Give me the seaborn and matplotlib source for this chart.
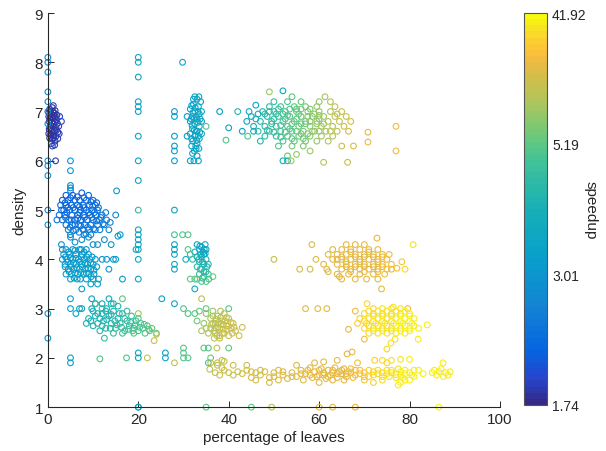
import numpy as np
import pandas as pd
import matplotlib
matplotlib.use("Agg")
import matplotlib.pyplot as plt
from matplotlib.colors import LinearSegmentedColormap, Normalize
from matplotlib.cm import ScalarMappable
import seaborn as sns

''' DATA: (percentage of leaves, density, speedup) read off the figure, by blob '''
left_strip = [
    (0.4, 7.05, 1.85), (1.0, 7.08, 1.8), (1.6, 7.02, 1.85), (0.2, 6.98, 1.8), (0.8, 6.95, 1.8),
    (1.4, 6.97, 1.8), (2.0, 6.93, 1.85), (0.5, 6.88, 1.8), (1.1, 6.86, 1.8), (1.7, 6.89, 1.8),
    (0.3, 6.80, 1.8), (0.9, 6.78, 1.8), (1.5, 6.80, 1.8), (2.1, 6.76, 1.85), (0.6, 6.72, 1.8),
    (1.2, 6.70, 1.8), (1.8, 6.68, 1.8), (0.3, 6.64, 1.8), (0.9, 6.60, 1.8), (1.5, 6.62, 1.8),
    (2.2, 6.58, 1.85), (0.6, 6.54, 1.8), (1.2, 6.52, 1.8), (1.8, 6.50, 1.85), (0.4, 6.46, 1.8),
    (1.0, 6.44, 1.8), (1.6, 6.40, 1.85), (0.8, 6.35, 1.9), (3.0, 6.80, 1.95), (2.2, 6.45, 1.9),
    (1.0, 6.30, 1.9), (1.5, 6.32, 1.9), (2.5, 6.55, 1.9), (1.7, 6.00, 1.85), (1.2, 7.12, 1.9),
    (0.6, 7.00, 1.8), (1.3, 6.92, 1.8), (0.5, 6.83, 1.8), (1.2, 6.75, 1.8), (1.9, 6.84, 1.85),
    (0.5, 6.67, 1.8), (1.2, 6.58, 1.8), (1.9, 6.62, 1.85), (0.7, 6.50, 1.8), (1.3, 6.47, 1.85),
    (0.2, 6.55, 1.8), (2.4, 6.70, 1.9), (2.6, 6.90, 1.9), (0.2, 6.90, 1.8), (1.1, 7.00, 1.8),
]
zero_column = [
    (0, 8.1, 2.8), (0, 8.0, 2.8), (0, 7.8, 2.8), (0, 7.4, 2.8), (0, 7.2, 2.8), (0, 7.0, 2.7),
    (0, 6.75, 2.7), (0, 6.0, 2.8), (0, 5.9, 2.8), (0, 5.7, 3.1), (0, 5.0, 2.5), (0, 4.7, 2.9),
    (0, 2.9, 3.0), (0, 2.4, 3.1), (5, 6.0, 3.0), (5, 5.8, 3.0), (5, 5.5, 3.0), (5, 5.4, 3.0),
]
blue_blob = [
    (4.0, 5.3, 2.1), (5.5, 5.3, 2.1), (7.5, 5.35, 2.1), (9.0, 5.3, 2.2),
    (3.2, 5.2, 2.1), (4.5, 5.2, 2.2), (6.0, 5.2, 2.2), (7.0, 5.2, 2.2), (8.5, 5.2, 2.3), (10.0, 5.2, 2.3),
    (2.8, 5.1, 2.3), (4.0, 5.1, 2.2), (5.2, 5.1, 2.3), (6.5, 5.1, 2.2), (7.8, 5.1, 2.3), (9.2, 5.1, 2.3), (10.5, 5.1, 2.4),
    (3.5, 5.0, 2.3), (4.8, 5.0, 2.2), (6.0, 5.0, 2.3), (7.2, 5.0, 2.3), (8.5, 5.0, 2.2), (9.8, 5.0, 2.4), (11.0, 5.0, 2.4),
    (2.5, 4.9, 2.4), (3.8, 4.9, 2.3), (5.3, 4.9, 2.3), (6.6, 4.9, 2.3), (7.9, 4.9, 2.2), (9.3, 4.9, 2.3), (10.6, 4.9, 2.4), (12.0, 4.9, 2.5),
    (3.2, 4.8, 2.4), (4.6, 4.8, 2.3), (6.0, 4.8, 2.3), (7.3, 4.8, 2.3), (8.7, 4.8, 2.3), (10.0, 4.8, 2.4), (11.4, 4.8, 2.4), (13.0, 4.8, 2.5),
    (4.0, 4.7, 2.4), (5.4, 4.7, 2.4), (6.8, 4.7, 2.3), (8.2, 4.7, 2.3), (9.5, 4.7, 2.4), (11.0, 4.7, 2.5), (12.5, 4.7, 2.5),
    (4.5, 4.6, 2.5), (6.2, 4.6, 2.5), (7.8, 4.6, 2.4), (9.0, 4.6, 2.4), (10.5, 4.6, 2.5),
    (5.0, 4.5, 2.6), (8.0, 4.5, 2.6), (9.5, 4.5, 2.6),
    (15.0, 4.9, 2.7), (15.5, 4.47, 3.0), (13.5, 4.6, 2.7), (12.5, 4.4, 2.8), (2.0, 4.8, 2.4),
    (5.0, 5.45, 2.8), (15.2, 5.39, 3.1),
    (3.8, 5.15, 2.2), (5.0, 5.25, 2.1), (6.5, 5.27, 2.1), (8.0, 5.25, 2.2), (9.5, 5.17, 2.3), (11.2, 5.05, 2.4),
    (3.0, 5.0, 2.3), (4.2, 4.95, 2.3), (5.6, 5.05, 2.2), (7.0, 5.07, 2.2), (8.0, 5.05, 2.3), (9.0, 4.95, 2.3),
    (10.3, 4.95, 2.3), (11.7, 4.85, 2.4), (3.9, 4.85, 2.3), (5.2, 4.8, 2.3), (6.6, 4.83, 2.3), (8.1, 4.85, 2.3),
    (9.7, 4.85, 2.4), (10.8, 4.78, 2.4), (12.2, 4.72, 2.5), (4.9, 4.65, 2.4), (6.0, 4.7, 2.4), (7.3, 4.68, 2.4),
    (8.8, 4.65, 2.4), (10.1, 4.62, 2.5), (11.5, 4.6, 2.5), (6.9, 4.55, 2.5), (8.4, 4.52, 2.5), (5.6, 4.58, 2.5),
    (7.0, 4.95, 2.2), (4.4, 5.05, 2.2), (9.9, 5.08, 2.3), (10.8, 5.15, 2.3), (12.8, 4.95, 2.5), (13.8, 4.75, 2.6),
]
gap_points = [
    (3.0, 4.3, 2.9), (3.2, 4.2, 2.9), (5.0, 4.45, 2.9), (6.0, 4.35, 2.9), (7.5, 4.4, 2.9), (9.0, 4.45, 2.9),
    (10.0, 4.3, 2.9), (11.0, 4.3, 2.9), (12.0, 4.0, 3.0), (13.0, 4.0, 3.0), (14.5, 4.0, 3.1), (15.0, 4.0, 3.1),
    (13.5, 3.8, 3.1), (14.0, 4.3, 3.0), (16.0, 4.5, 3.1), (16.5, 3.6, 3.2),
]
cyan_blob = [
    (4.0, 4.2, 3.0), (5.5, 4.2, 3.0), (7.0, 4.2, 3.1), (8.5, 4.2, 3.0),
    (3.5, 4.1, 3.0), (4.8, 4.1, 3.1), (6.2, 4.1, 3.1), (7.6, 4.1, 3.1), (9.0, 4.1, 3.0),
    (3.2, 4.0, 3.0), (4.2, 4.0, 3.1), (5.5, 4.0, 3.2), (6.8, 4.0, 3.1), (8.0, 4.0, 3.2), (9.3, 4.0, 3.1), (10.5, 4.0, 3.1),
    (3.8, 3.9, 3.1), (5.0, 3.9, 3.2), (6.3, 3.9, 3.2), (7.5, 3.9, 3.2), (8.8, 3.9, 3.1), (10.0, 3.9, 3.2),
    (4.5, 3.8, 3.1), (5.8, 3.8, 3.2), (7.0, 3.8, 3.3), (8.3, 3.8, 3.2), (9.5, 3.8, 3.2),
    (4.0, 3.7, 3.2), (5.2, 3.7, 3.2), (6.6, 3.7, 3.2), (8.0, 3.7, 3.3), (9.0, 3.7, 3.2), (10.2, 3.7, 3.2),
    (5.0, 3.6, 3.3), (6.5, 3.6, 3.3), (8.5, 3.6, 3.3), (10.0, 3.6, 3.3), (11.2, 3.6, 3.3),
    (9.5, 3.5, 3.3), (11.0, 3.5, 3.3), (7.5, 3.4, 3.3),
    (4.6, 4.15, 3.0), (6.0, 4.18, 3.1), (7.4, 4.2, 3.1), (8.0, 4.15, 3.1), (3.9, 4.05, 3.0), (5.0, 4.03, 3.1),
    (6.2, 4.02, 3.2), (7.4, 4.05, 3.2), (8.6, 4.05, 3.1), (9.8, 4.05, 3.1), (4.4, 3.95, 3.1), (5.7, 3.93, 3.2),
    (7.0, 3.95, 3.2), (8.2, 3.92, 3.2), (9.5, 3.93, 3.2), (10.8, 3.85, 3.2), (5.2, 3.85, 3.2), (6.4, 3.83, 3.2),
    (7.6, 3.85, 3.3), (8.9, 3.82, 3.2), (10.2, 3.78, 3.2), (4.7, 3.75, 3.2), (6.0, 3.72, 3.2), (7.3, 3.73, 3.3),
    (8.5, 3.72, 3.3), (9.6, 3.65, 3.3), (5.8, 3.62, 3.3), (7.2, 3.6, 3.3), (3.8, 3.85, 3.1),
]
low_scatter = [
    (5.0, 3.2, 3.3), (5.0, 3.0, 3.3), (6.2, 2.9, 3.4), (7.0, 3.0, 3.4), (7.5, 3.0, 3.4), (9.7, 3.2, 3.4),
    (9.7, 3.0, 3.4), (10.5, 3.1, 3.5), (12.0, 3.1, 3.6), (25.2, 3.2, 3.4), (14.0, 3.1, 4.4),
    (5.0, 2.0, 3.3), (5.0, 1.9, 3.3), (11.5, 1.98, 5.0), (17.4, 2.0, 5.0), (26.0, 2.1, 3.4), (26.0, 2.0, 3.4),
]
teal_band = [
    (8.5, 2.7, 4.0), (9.5, 2.75, 4.0), (10.5, 2.85, 4.0), (11.0, 2.7, 4.1), (12.0, 2.9, 4.0), (12.3, 2.75, 4.1),
    (12.8, 2.6, 4.3), (13.5, 2.85, 4.1), (14.0, 2.7, 4.2), (14.5, 2.95, 4.0), (15.0, 2.6, 4.4), (15.5, 2.8, 4.3),
    (16.0, 2.7, 4.5), (16.5, 2.9, 4.3), (17.0, 2.55, 4.7), (17.5, 2.75, 4.5), (18.0, 2.65, 4.6), (18.5, 2.85, 4.5),
    (19.0, 2.6, 4.8), (19.5, 2.75, 4.7), (20.0, 2.55, 4.9), (20.5, 2.7, 4.8), (21.0, 2.6, 5.0), (21.5, 2.5, 5.1),
    (22.0, 2.65, 5.0), (22.5, 2.55, 5.2), (23.0, 2.6, 5.3), (10.0, 2.95, 3.9), (13.0, 3.0, 4.0), (11.5, 2.55, 4.3),
    (12.5, 2.4, 4.5), (14.5, 2.5, 4.6), (16.5, 2.5, 4.8), (19.0, 2.5, 5.0), (24.0, 2.5, 5.3), (15.5, 3.05, 4.1),
    (17.5, 2.95, 4.5), (20.0, 2.9, 9.0), (20.0, 2.8, 5.3), (24.0, 2.48, 12.0), (23.5, 2.35, 12.0),
    (22.0, 2.0, 12.0), (16.5, 3.2, 5.2), (14.5, 3.1, 4.1), (10.5, 3.1, 4.6), (12.0, 3.0, 4.5), (13.5, 3.2, 3.7),
    (9.0, 2.8, 4.0), (10.0, 2.65, 4.1), (11.5, 2.8, 4.0), (12.0, 2.65, 4.2), (13.0, 2.78, 4.1), (13.8, 2.6, 4.3),
    (14.8, 2.75, 4.2), (15.3, 2.67, 4.4), (16.3, 2.62, 4.6), (17.0, 2.8, 4.4), (17.8, 2.58, 4.8), (18.3, 2.72, 4.6),
    (19.3, 2.67, 4.8), (20.3, 2.62, 4.9), (21.3, 2.68, 5.0), (22.3, 2.58, 5.2), (14.0, 2.88, 4.1), (12.8, 2.95, 4.0),
    (15.8, 2.9, 4.3), (18.8, 2.55, 5.0), (11.0, 2.9, 4.0),
]
column_20 = [
    (20, 8.1, 3.4), (20, 8.0, 3.4), (20, 7.7, 3.4), (20, 7.2, 3.4), (20, 7.1, 3.4), (20, 7.0, 3.4),
    (20, 6.5, 3.4), (20, 6.0, 3.4), (20, 5.6, 3.4), (20, 5.0, 4.6), (20, 4.6, 3.4), (20, 4.5, 3.4),
    (20, 4.4, 3.4), (20, 4.3, 3.4), (20, 4.2, 3.4), (19.5, 4.2, 3.4), (20, 4.0, 3.4), (20, 3.6, 3.4),
    (20, 2.1, 3.4), (20, 2.0, 3.4), (20, 1.0, 3.4),
]
column_28 = [
    (28, 5.0, 3.4), (28, 4.5, 4.8), (28, 4.3, 3.4), (28, 4.2, 3.4), (28, 4.1, 3.4), (28, 3.9, 3.4),
    (28, 3.8, 3.4), (28, 3.1, 3.4), (28, 1.9, 12.0), (28, 7.0, 3.2), (28, 6.9, 3.2), (28, 6.5, 3.2),
    (28, 6.3, 3.2), (28, 6.2, 3.2), (28, 6.0, 3.2), (29.8, 8.0, 3.4), (29.8, 4.5, 5.0), (31.0, 4.5, 5.0),
    (30.0, 3.0, 5.0), (31.0, 2.9, 5.0), (30.0, 2.2, 5.0), (30.0, 2.1, 5.0), (30.0, 2.0, 5.0), (31.0, 2.0, 5.0),
]
cyan_column = [
    (32.5, 7.3, 3.4), (33.0, 7.25, 3.4), (32.2, 7.15, 3.4), (33.3, 7.1, 3.5), (31.5, 7.05, 3.3),
    (32.5, 7.0, 3.4), (33.5, 6.95, 3.5), (32.0, 6.9, 3.4), (33.0, 6.85, 3.5), (31.5, 6.8, 3.3),
    (32.5, 6.75, 3.4), (33.5, 6.7, 3.5), (32.0, 6.65, 3.4), (33.0, 6.6, 3.5), (31.5, 6.55, 3.3),
    (32.5, 6.5, 3.4), (33.5, 6.45, 3.5), (32.0, 6.4, 3.4), (33.0, 6.35, 3.5), (31.8, 6.3, 3.3),
    (32.8, 6.25, 3.4), (32.0, 6.15, 3.4), (33.0, 6.1, 3.4), (31.5, 6.0, 3.3), (32.3, 6.0, 3.3),
    (33.3, 6.0, 3.4), (30.8, 6.9, 3.2), (34.0, 6.8, 3.6), (34.0, 7.0, 3.6), (30.8, 6.5, 3.2),
    (34.0, 6.55, 3.6), (33.8, 7.2, 3.5), (32.8, 6.9, 3.5), (32.8, 6.6, 3.5), (32.3, 6.85, 3.4),
    (32.7, 6.3, 3.4),
    (32.2, 7.25, 3.4), (33.4, 7.3, 3.5), (31.8, 7.12, 3.3), (33.2, 7.0, 3.5), (32.1, 6.98, 3.4),
    (31.9, 6.72, 3.4), (33.2, 6.78, 3.5), (32.4, 6.62, 3.4), (33.6, 6.58, 3.5), (31.8, 6.45, 3.3),
    (32.9, 6.42, 3.5), (33.4, 6.25, 3.5), (32.4, 6.2, 3.4), (31.7, 6.85, 3.3), (33.7, 6.85, 3.5),
    (32.6, 7.08, 3.4), (32.6, 6.52, 3.4), (33.3, 6.5, 3.5),
]
green_column = [
    (33.0, 4.3, 3.4), (34.0, 4.25, 3.4), (33.5, 4.2, 3.5), (34.3, 4.15, 3.5), (32.5, 4.15, 3.8),
    (33.0, 4.05, 4.0), (34.0, 4.05, 3.8), (35.0, 4.0, 4.1), (32.0, 4.0, 4.4), (33.5, 3.95, 4.1),
    (34.5, 3.9, 4.0), (33.0, 3.85, 4.5), (34.0, 3.8, 4.3), (35.0, 3.75, 4.4), (33.5, 3.7, 4.7),
    (34.5, 3.65, 4.4), (35.5, 3.7, 4.8), (33.0, 3.6, 5.1), (34.0, 3.55, 5.1), (35.0, 3.55, 5.3),
    (36.5, 3.65, 5.4), (31.5, 3.6, 5.3), (32.5, 3.6, 5.2), (32.5, 3.4, 3.5), (31.0, 4.2, 5.0),
    (31.5, 4.1, 4.7), (30.5, 4.0, 3.8), (34.8, 4.3, 3.5), (35.5, 3.9, 4.2), (34.5, 4.1, 3.5),
    (33.6, 4.27, 3.4), (34.6, 4.2, 3.5), (33.8, 4.1, 3.6), (34.8, 4.12, 3.6), (33.4, 4.0, 3.9),
    (34.2, 3.95, 3.9), (35.2, 3.85, 4.2), (34.5, 3.75, 4.3), (35.6, 3.6, 4.8), (33.7, 3.8, 4.4),
    (34.2, 3.62, 4.6), (35.0, 4.2, 3.6),
]
khaki_blob = [
    (35.0, 2.9, 8.0), (36.0, 2.8, 10.0), (36.5, 2.95, 9.0), (37.0, 2.7, 12.0), (37.5, 2.85, 11.0),
    (38.0, 2.6, 12.5), (38.5, 2.75, 12.0), (39.0, 2.9, 11.5), (39.5, 2.65, 13.0), (40.0, 2.8, 12.5),
    (40.5, 2.6, 13.5), (41.0, 2.7, 13.5), (36.0, 2.6, 11.0), (37.0, 2.5, 12.0), (38.0, 2.45, 13.5),
    (39.0, 2.5, 13.5), (40.0, 2.45, 14.0), (36.5, 2.7, 11.5), (38.2, 2.95, 11.0), (39.2, 2.75, 12.5),
    (37.6, 2.62, 12.0), (38.8, 2.58, 13.0), (41.5, 2.55, 14.0), (42.3, 2.45, 14.5), (43.0, 2.62, 14.0),
    (40.0, 3.0, 5.3), (34.5, 2.7, 8.0), (35.5, 2.5, 10.0), (36.8, 2.4, 12.0), (38.0, 2.4, 12.5),
    (33.5, 2.95, 5.6), (32.5, 2.9, 5.3), (33.0, 2.75, 6.5), (34.0, 2.55, 10.0), (35.0, 2.6, 10.0),
    (34.5, 2.2, 5.3), (36.0, 2.0, 6.0), (40.0, 2.2, 5.3), (35.0, 3.0, 5.3), (34.0, 3.2, 11.0),
    (37.4, 2.2, 12.0), (37.5, 1.9, 13.0), (38.5, 1.8, 13.0), (36.0, 1.9, 12.0), (39.0, 1.93, 13.0),
    (35.5, 2.2, 5.0), (35.5, 1.9, 5.0),
    (36.5, 2.85, 10.5), (37.3, 2.78, 11.5), (38.2, 2.82, 11.5), (39.5, 2.82, 12.0), (40.5, 2.72, 13.0),
    (37.2, 2.6, 12.0), (38.3, 2.68, 12.5), (39.6, 2.58, 13.0), (40.8, 2.5, 14.0), (36.2, 2.68, 11.0),
    (37.8, 2.72, 12.0), (38.8, 2.68, 12.5), (39.9, 2.65, 13.0), (37.4, 2.45, 12.5), (38.6, 2.5, 13.0),
    (41.2, 2.62, 13.5), (36.8, 2.55, 11.5),
]
top_right = [
    (54, 7.3, 5.3), (61.3, 7.3, 9.0), (49, 7.4, 8.0), (52, 7.42, 3.5),
    (50, 7.2, 4.7), (53, 7.2, 5.0), (56, 7.2, 5.8), (60, 7.2, 8.0), (62.5, 7.2, 11.0),
    (46, 7.13, 3.4), (49, 7.1, 4.5), (51.5, 7.1, 4.8), (54.5, 7.1, 5.2), (57, 7.1, 6.5), (59.5, 7.1, 8.0), (63.5, 7.1, 12.0),
    (38, 7.0, 3.3), (42, 7.0, 4.2), (47.5, 7.0, 4.1), (50, 7.0, 4.6), (52.5, 7.0, 4.9), (55, 7.0, 5.4),
    (57.5, 7.0, 6.8), (60, 7.0, 8.5), (62.5, 7.0, 10.5), (65, 7.0, 13.5),
    (45, 6.9, 3.5), (48.5, 6.9, 4.3), (51, 6.9, 4.7), (53.5, 6.9, 5.1), (56, 6.9, 5.8), (58.5, 6.9, 7.5),
    (61, 6.9, 9.5), (63.5, 6.9, 12.0), (66, 6.9, 14.0),
    (44, 6.8, 3.4), (47, 6.8, 4.2), (49.5, 6.8, 4.6), (52, 6.8, 4.9), (54.5, 6.8, 5.3), (57, 6.8, 6.5),
    (59.5, 6.8, 8.0), (62, 6.8, 10.5), (64.5, 6.8, 12.5), (67, 6.8, 15.0),
    (35, 6.7, 5.0), (40, 6.67, 3.4), (45.5, 6.7, 3.8), (48, 6.7, 4.4), (50.5, 6.7, 4.7), (53, 6.7, 5.0),
    (55.5, 6.7, 5.6), (58, 6.7, 7.5), (60.5, 6.7, 9.0), (63, 6.7, 11.0), (65.5, 6.7, 13.5), (77, 6.7, 21.0),
    (43, 6.6, 3.4), (46.5, 6.6, 4.6), (49, 6.6, 4.5), (51.5, 6.6, 4.8), (54, 6.6, 5.2), (56.5, 6.6, 6.0),
    (59, 6.6, 8.0), (61.5, 6.6, 10.0), (64, 6.6, 12.0), (66.5, 6.6, 14.5), (70.8, 6.58, 18.0),
    (44.2, 6.5, 5.0), (48, 6.5, 4.3), (50.5, 6.5, 4.7), (53, 6.5, 5.0), (55.5, 6.5, 5.6), (58, 6.5, 7.5),
    (60.5, 6.5, 9.0), (63, 6.5, 11.0),
    (39.4, 6.42, 5.1), (47, 6.4, 4.2), (52, 6.4, 4.9), (54.5, 6.4, 5.3), (57, 6.4, 6.5), (59.5, 6.4, 8.0),
    (62, 6.4, 10.5), (70.8, 6.38, 18.0),
    (51, 6.3, 5.0), (54, 6.3, 6.0), (56.5, 6.3, 7.0), (65, 6.3, 13.5), (67.6, 6.3, 16.0),
    (55, 6.13, 8.0), (58, 6.2, 9.5), (77, 6.2, 21.0), (53, 6.1, 5.2),
    (52, 6.0, 3.8), (53, 6.0, 4.0), (53.8, 6.0, 9.0), (61, 5.97, 11.0), (66.3, 5.97, 12.5),
    (52, 6.95, 4.9), (55, 6.85, 5.4), (57, 6.75, 6.5), (59, 6.95, 8.0), (61, 6.75, 9.5), (53.5, 6.65, 5.1),
    (56, 6.55, 6.0), (58.5, 6.6, 8.0), (60, 6.85, 8.5), (50, 6.85, 4.6), (48, 6.95, 4.4), (62.5, 6.6, 11.0),
    (64, 6.95, 12.0), (55, 7.05, 5.3), (58, 7.05, 7.0),
    (49, 7.0, 4.4), (51, 7.05, 4.7), (53.5, 7.05, 5.0), (56, 7.05, 6.0), (50.5, 6.95, 4.6), (53, 6.92, 5.0),
    (55.5, 6.95, 5.6), (57.5, 6.9, 6.8), (60, 6.92, 8.5), (49.5, 6.75, 4.6), (51.5, 6.72, 4.8), (52.5, 6.85, 4.9),
    (54, 6.75, 5.2), (56, 6.75, 5.8), (58, 6.8, 7.5), (59.5, 6.75, 8.0), (48.5, 6.62, 4.4), (50, 6.58, 4.6),
    (52.5, 6.58, 5.0), (55, 6.6, 5.4), (57.5, 6.55, 7.0), (60, 6.6, 8.5), (51.5, 6.48, 4.8), (54, 6.45, 5.2),
    (56.5, 6.45, 6.0), (46, 6.85, 3.9), (46.5, 6.95, 3.8), (44.5, 7.0, 3.5), (45.5, 6.6, 3.7),
]
orange_blob = [
    (58.4, 4.3, 16.0), (66, 4.3, 18.0), (68, 4.3, 18.0), (70, 4.3, 18.5), (72.8, 4.43, 19.0),
    (63, 4.2, 17.0), (65, 4.2, 18.0), (67, 4.2, 18.0), (69, 4.2, 18.5), (71, 4.2, 18.5), (73, 4.2, 19.0),
    (62, 4.1, 17.0), (64, 4.1, 18.0), (66, 4.1, 18.0), (68, 4.1, 18.5), (70, 4.1, 18.5), (72, 4.1, 19.0), (74, 4.1, 20.0),
    (50, 4.0, 12.0), (59.3, 4.0, 16.0), (63, 4.0, 18.0), (65, 4.0, 18.0), (67, 4.0, 18.5), (69, 4.0, 18.5),
    (71, 4.0, 18.5), (73, 4.0, 19.0), (75, 4.0, 20.0),
    (61, 3.9, 17.0), (64, 3.9, 18.0), (66, 3.9, 18.0), (68, 3.9, 18.5), (70, 3.9, 18.5), (72, 3.9, 19.0),
    (74, 3.9, 19.5), (76, 3.9, 21.0), (78.3, 3.95, 25.0),
    (55.7, 3.8, 15.0), (58, 3.8, 15.5), (61.7, 3.8, 16.0), (65, 3.8, 18.0), (67, 3.8, 18.0), (69, 3.8, 18.5),
    (71, 3.8, 18.5), (73, 3.8, 19.0), (75, 3.8, 20.0), (77.2, 3.82, 23.0), (79, 3.8, 30.0),
    (64, 3.7, 18.0), (66.5, 3.7, 18.0), (69, 3.7, 18.5), (72, 3.7, 19.0), (74.5, 3.7, 20.0),
    (65, 3.6, 18.0), (68, 3.6, 18.5), (70.5, 3.6, 18.5), (73, 3.6, 19.0), (73.8, 3.4, 19.0),
    (62, 3.75, 17.0), (64.5, 3.65, 17.0), (80.8, 4.3, 34.0),
    (57, 3.0, 16.0), (59.7, 3.0, 16.0), (61.7, 3.0, 16.0),
    (65, 4.05, 18.0), (66, 3.95, 18.0), (67, 4.15, 18.0), (68, 4.05, 18.5), (69, 3.95, 18.5), (70, 4.05, 18.5),
    (71, 4.15, 18.5), (72, 4.05, 19.0), (73, 3.95, 19.0), (74, 4.05, 19.5), (66, 3.85, 18.0), (68, 3.85, 18.5),
    (70, 3.85, 18.5), (72, 3.85, 19.0), (74, 3.85, 19.5), (67, 3.75, 18.0), (70, 3.75, 18.5), (73, 3.75, 19.0),
    (64, 4.0, 18.0), (75.5, 4.1, 20.0), (76, 3.8, 21.0),
]
yellow_blob = [
    (70.6, 3.1, 30.0), (76.4, 3.03, 33.0), (79.6, 3.0, 20.0),
    (68, 2.95, 20.0), (72, 3.0, 30.0), (74, 3.0, 32.0), (76, 3.0, 33.0), (78, 3.0, 34.0),
    (70, 2.9, 30.0), (72, 2.9, 32.0), (74, 2.9, 33.0), (76, 2.9, 34.0), (78, 2.9, 35.0), (80, 2.9, 36.0),
    (69, 2.8, 28.0), (71, 2.8, 32.0), (73, 2.8, 33.0), (75, 2.8, 34.0), (77, 2.8, 35.0), (79, 2.8, 36.0), (81, 2.8, 37.0),
    (68.5, 2.7, 27.0), (70.5, 2.7, 31.0), (72.5, 2.7, 33.0), (74.5, 2.7, 34.0), (76.5, 2.7, 35.0),
    (78.5, 2.7, 36.0), (80.5, 2.7, 37.0), (83.9, 2.67, 38.0),
    (66.5, 2.58, 19.0), (70, 2.6, 30.0), (72, 2.6, 32.0), (74, 2.6, 33.0), (76, 2.6, 34.0), (78, 2.6, 35.0),
    (80, 2.6, 36.0), (82, 2.6, 37.0),
    (71, 2.5, 31.0), (73, 2.5, 33.0), (75, 2.5, 34.0), (77, 2.5, 35.0), (79, 2.5, 36.0),
    (70, 2.38, 20.0), (76.8, 2.38, 34.0), (81.9, 2.38, 36.0), (75.9, 2.3, 33.0), (75, 2.18, 30.0),
    (66.2, 2.08, 18.0), (67.3, 2.12, 18.0), (72.3, 1.95, 28.0), (74, 1.95, 30.0),
    (71, 2.95, 31.0), (73, 2.95, 32.0), (75, 2.95, 33.0), (77, 2.95, 34.0), (79, 2.95, 35.0),
    (70, 2.75, 30.0), (72, 2.75, 32.0), (74, 2.75, 33.0), (76, 2.75, 34.0), (78, 2.75, 35.0), (80, 2.75, 36.0),
    (71, 2.65, 31.0), (73, 2.65, 33.0), (75, 2.65, 34.0), (77, 2.65, 35.0), (79, 2.65, 36.0), (81, 2.65, 37.0),
    (72, 2.55, 32.0), (74, 2.55, 33.0), (76, 2.55, 34.0), (78, 2.55, 35.0), (80, 2.55, 36.0),
    (72, 2.85, 32.0), (74, 2.85, 33.0), (76, 2.85, 34.0), (78, 2.85, 35.0), (80, 2.85, 36.0),
]
bottom_band = [
    (35.8, 1.77, 12.0), (37, 1.7, 12.5), (38, 1.65, 13.0), (39, 1.75, 13.0), (40, 1.7, 13.5), (41, 1.65, 13.5),
    (42, 1.72, 14.0), (43, 1.68, 14.0), (44, 1.75, 14.5), (45, 1.6, 14.5), (46, 1.7, 15.0), (47, 1.65, 15.0),
    (48, 1.72, 15.5), (49, 1.6, 15.5), (50, 1.7, 16.0), (51, 1.75, 16.0), (52, 1.65, 16.5), (53, 1.58, 16.5),
    (54, 1.7, 17.0), (55, 1.62, 17.0), (56, 1.75, 17.0), (57, 1.68, 17.5), (58, 1.8, 17.5), (58.5, 1.6, 17.5),
    (59, 1.72, 18.0), (60, 1.65, 18.0), (60.5, 1.78, 18.0), (61, 1.7, 18.0), (61.5, 1.58, 18.0), (62, 1.75, 18.5),
    (62.5, 1.65, 18.5), (63, 1.7, 18.5), (63.5, 1.8, 18.5), (64, 1.6, 18.5), (64.5, 1.72, 19.0), (65, 1.68, 19.0),
    (65.5, 1.78, 19.0), (66, 1.62, 19.0), (66.5, 1.72, 19.5), (67, 1.7, 20.0), (67.5, 1.6, 20.0), (68, 1.75, 21.0),
    (69, 1.68, 23.0), (70, 1.7, 25.0), (71, 1.62, 27.0), (72, 1.72, 29.0), (73, 1.68, 30.0), (74, 1.7, 31.0),
    (75, 1.75, 32.0), (75.5, 1.62, 32.0), (76, 1.7, 33.0), (77, 1.66, 34.0), (77.5, 1.78, 34.0), (78, 1.72, 35.0),
    (78.5, 1.6, 36.0), (79, 1.68, 36.0), (80, 1.55, 37.0), (80.5, 1.65, 36.0), (81, 1.75, 37.0),
    (85, 1.7, 36.0), (85.5, 1.75, 36.0), (86, 1.65, 36.0), (86.5, 1.72, 37.0), (87, 1.78, 37.0),
    (87.5, 1.62, 37.0), (88, 1.7, 38.0), (88.5, 1.65, 38.0), (89, 1.72, 38.0), (87.4, 1.9, 37.0),
    (79, 1.55, 36.0), (77.5, 1.45, 35.0), (78, 1.5, 35.0),
    (37.5, 1.85, 12.0), (38.5, 1.95, 12.0), (41, 1.85, 13.0), (44, 1.85, 14.0), (46, 1.55, 15.0),
    (49, 1.5, 15.5), (51, 1.55, 16.0), (55, 1.85, 17.0), (56.5, 1.55, 17.0), (59, 1.9, 18.0), (60, 1.5, 18.0),
    (61, 1.92, 18.0), (63, 1.55, 18.5), (64, 1.95, 18.5), (65.5, 1.55, 19.0), (68.5, 1.9, 22.0), (70, 1.55, 25.0),
    (72, 1.5, 28.0), (74, 1.55, 30.0), (75, 1.9, 31.0), (76, 1.95, 33.0), (78, 1.97, 34.0), (80, 1.97, 36.0),
    (82, 1.75, 37.0), (83, 1.68, 37.0),
    (57.5, 1.75, 17.5), (58, 1.65, 17.5), (59.5, 1.62, 18.0), (60, 1.75, 18.0), (61, 1.65, 18.0), (62, 1.62, 18.5),
    (63, 1.75, 18.5), (64, 1.68, 18.5), (65, 1.75, 19.0), (66, 1.68, 19.0), (67, 1.78, 20.0), (68, 1.65, 21.0),
    (69, 1.75, 23.0), (70, 1.62, 25.0), (71, 1.75, 27.0), (72, 1.65, 29.0), (73, 1.75, 30.0), (74, 1.62, 31.0),
    (75, 1.68, 32.0), (76, 1.75, 33.0), (77, 1.6, 34.0), (78, 1.65, 35.0), (79, 1.75, 36.0), (80, 1.7, 36.0),
    (81, 1.62, 37.0), (45, 1.72, 14.5), (47, 1.75, 15.0), (50, 1.62, 16.0), (52, 1.72, 16.5), (54, 1.62, 17.0),
    (56, 1.68, 17.0),
]
floor_points = [
    (20, 1.0, 3.4), (35, 1.0, 5.3), (45, 1.0, 5.3), (49.5, 1.0, 11.0), (60, 1.0, 18.0),
    (63, 1.0, 18.0), (68, 1.0, 18.0), (86.5, 1.0, 36.0),
]

cbar_ticks = [1.74, 3.01, 5.19, 41.92]
cbar_ticklabels = ["1.74", "3.01", "5.19", "41.92"]

blobs = [left_strip, zero_column, blue_blob, gap_points, cyan_blob, low_scatter, teal_band,
         column_20, column_28, cyan_column, green_column, khaki_blob, top_right,
         orange_blob, yellow_blob, bottom_band, floor_points]
df = pd.DataFrame([p for b in blobs for p in b], columns=["leaves", "density", "speedup"])
# colorbar ticks sit at 0, 1/3, 2/3, 1 -> log-interpolate between them
df["level"] = np.interp(np.log(df["speedup"]), np.log(cbar_ticks), [0, 1/3, 2/3, 1])

''' PARULA-LIKE COLORMAP '''
parula_pts = [
    (0.000, (0.2081, 0.1663, 0.5292)), (0.060, (0.150, 0.270, 0.800)), (0.130, (0.020, 0.390, 0.880)),
    (0.250, (0.075, 0.520, 0.830)), (0.370, (0.030, 0.620, 0.800)), (0.500, (0.090, 0.690, 0.720)),
    (0.625, (0.260, 0.760, 0.590)), (0.690, (0.420, 0.790, 0.480)), (0.750, (0.600, 0.780, 0.400)),
    (0.810, (0.760, 0.760, 0.320)), (0.875, (0.910, 0.730, 0.260)), (0.905, (0.980, 0.750, 0.230)),
    (0.935, (0.990, 0.810, 0.190)), (0.968, (0.970, 0.890, 0.140)), (1.000, (0.9763, 0.9831, 0.0538)),
]
parula = LinearSegmentedColormap.from_list("parula", parula_pts, N=64)

''' PLOT '''
sns.set_style("ticks")
plt.rcParams['font.family'] = ['Liberation Sans', 'DejaVu Sans']
plt.rcParams['xtick.direction'] = 'in'
plt.rcParams['ytick.direction'] = 'in'
dark = '#262626'

fig = plt.figure(figsize=(6.06, 4.52), dpi=100)
ax = fig.add_axes([0.079, 0.097, 0.746, 0.872])
sns.scatterplot(data=df, x="leaves", y="density", hue="level", palette=parula, hue_norm=(0, 1),
                legend=False, s=17, linewidth=0.8, ax=ax)
pts = ax.collections[0]
cols = pts.get_facecolors()
pts.set_facecolors("none")
pts.set_edgecolors(cols)
pts.set_clip_on(False)

ax.set_xlim(0, 100)
ax.set_ylim(1, 9)
ax.set_xticks(range(0, 101, 20))
ax.set_yticks(range(1, 10))
ax.set_xlabel("percentage of leaves", fontsize=11, color=dark, labelpad=3)
ax.set_ylabel("density", fontsize=11, color=dark, labelpad=6)
ax.tick_params(labelsize=11, colors=dark, length=4, width=0.7)
sns.despine(ax=ax)
for sp in ["left", "bottom"]:
    ax.spines[sp].set_color(dark)
    ax.spines[sp].set_linewidth(0.8)

cax = fig.add_axes([0.865, 0.102, 0.038, 0.867])
cb = fig.colorbar(ScalarMappable(norm=Normalize(0, 1), cmap=parula), cax=cax)
cb.set_ticks([0, 1/3, 2/3, 1])
cb.set_ticklabels(cbar_ticklabels)
cax.tick_params(direction="in", length=3, width=0.7, labelsize=10, colors=dark)
cb.outline.set_edgecolor("#555555")
cb.outline.set_linewidth(0.8)
cax.set_ylabel("speedup", rotation=270, fontsize=11, color=dark, labelpad=8)

fig.savefig("out.png", dpi=100)
